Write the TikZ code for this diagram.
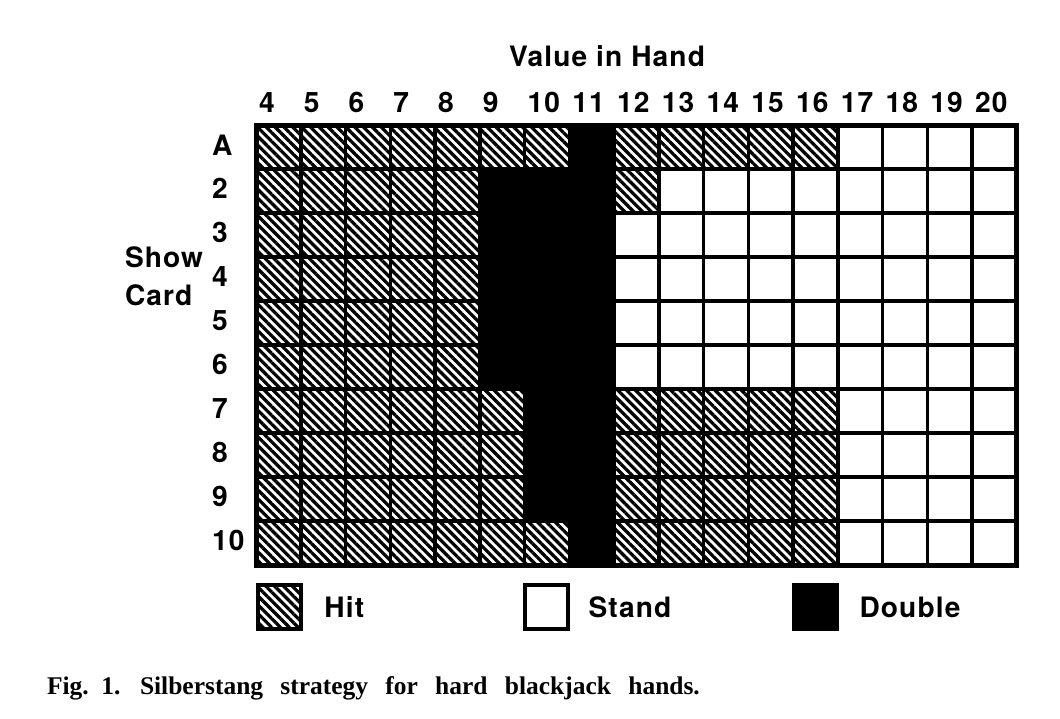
\documentclass[tikz,border=0pt]{standalone}
\usepackage{fontspec}
\usepackage{tikz}
\usetikzlibrary{positioning}
\usetikzlibrary{patterns.meta}
\newfontfamily\helv[LetterSpace=4]{TeX Gyre Heros}
\newfontfamily\capfont{Liberation Serif}

\begin{document}
\begin{tikzpicture}[x=0.02cm,y=0.02cm,
  every node/.style={inner sep=0pt,outer sep=0pt},
  lab/.style={font=\helv\bfseries\fontsize{16}{20}\selectfont},
  hitcell/.style={pattern={Lines[angle=-45,distance=0.125cm,line width=0.065cm]}},
  dblcell/.style={fill=black},
  legbox/.style={draw,line width=0.08cm,minimum width=0.86cm,minimum height=0.88cm}]
  \useasboundingbox (0,0) rectangle (1060,718);
  \node[lab,anchor=base] (title) at (607,651) {Value in Hand};

  % grid, one unit per cell
  \begin{scope}[shift={(256,153)},x=0.8952cm,y=0.88cm]
    \foreach \r/\card/\dbl/\hitend in {0/10/11/16,1/9/10/16,2/8/10/16,3/7/10/16,4/6/9/11,
                                       5/5/9/11,6/4/9/11,7/3/9/11,8/2/9/12,9/A/11/16}{
      \fill[hitcell] (0,\r) rectangle (\dbl-4,\r+1);
      \fill[dblcell] (\dbl-4,\r) rectangle (8,\r+1);
      \fill[hitcell] (8,\r) rectangle (\hitend-3,\r+1);
      \node[lab,anchor=base west] (row\r) at (-0.98,\r+0.32) {\card};
    }
    \foreach \v [count=\i from 0] in {4,...,20}
      \node[lab,anchor=base west] (col\v) at (\i+0.07,10.295) {\v};
    \foreach \i in {1,...,16}
      \draw[line width=0.07cm] (\i,0) -- (\i,10);
    \foreach \r in {1,...,9}
      \draw[line width=0.07cm] (0,\r) -- (17,\r);
    \draw[line width=0.1cm] (0,0) rectangle (17,10);
  \end{scope}

  \node[lab,anchor=base west] (show) at (125,451) {Show};
  \node[lab,anchor=base west] (card) at (125,413) {Card};

  % legend
  \node[legbox,hitcell] (hitkey) at (279,111) {};
  \node[lab,right=0.48cm of hitkey] (hittext) {Hit};
  \node[legbox,fill=white] (standkey) at (546,111) {};
  \node[lab,right=0.42cm of standkey] (standtext) {Stand};
  \node[legbox,dblcell] (dblkey) at (815,111) {};
  \node[lab,right=0.46cm of dblkey] (dbltext) {Double};

  \node[anchor=base west,font=\capfont\bfseries\fontsize{14.5}{17}\selectfont] (fig) at (47,24) {Fig.\ \ 1.};
  \node[anchor=base west,font=\capfont\bfseries\fontsize{14.5}{17}\selectfont] (caption) at (140,24)
    {\makebox[11.2cm][s]{Silberstang strategy for hard blackjack hands.}};
\end{tikzpicture}
\end{document}
